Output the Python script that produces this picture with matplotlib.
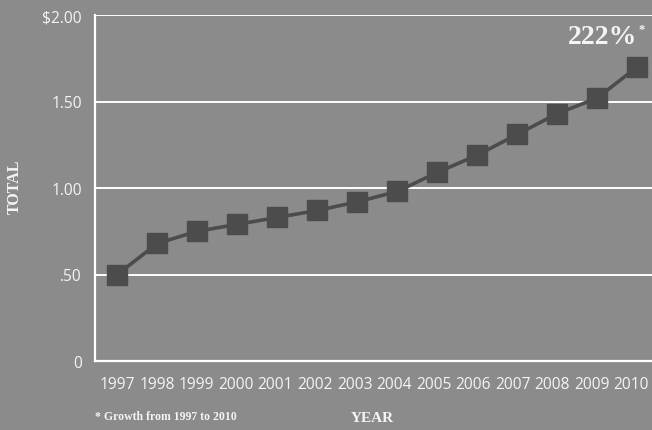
import matplotlib
matplotlib.use("Agg")
import matplotlib.pyplot as plt
from matplotlib.transforms import ScaledTranslation

years = [1997, 1998, 1999, 2000, 2001, 2002, 2003, 2004, 2005, 2006, 2007, 2008, 2009, 2010]
totals = [0.50, 0.68, 0.75, 0.79, 0.83, 0.87, 0.92, 0.98, 1.09, 1.19, 1.31, 1.43, 1.52, 1.70]
y_ticks = [0, 0.5, 1.0, 1.5, 2.0]
y_tick_labels = ["0", ".50", "1.00", "1.50", "$2.00"]
growth_label = "222%"
footnote = "* Growth from 1997 to 2010"

BG = "#8b8b8b"
MARK = "#4c4c4c"
TEXT = "#f4f4f4"
SANS = "Open Sans"
SERIF = "Liberation Serif"

fig = plt.figure(figsize=(6.52, 4.31), dpi=100, facecolor=BG)
ax = fig.add_axes([95 / 652, 1 - 362 / 431, (652 - 95) / 652, (362 - 16) / 431])
ax.set_facecolor(BG)

ax.plot(years, totals, color=MARK, lw=2.6, marker="s", ms=15,
        mfc=MARK, mec=MARK, zorder=3)

ax.set_xlim(1996.44, 2010.37)
ax.set_ylim(0, 2.0)

ax.set_yticks(y_ticks)
ax.set_yticklabels(y_tick_labels)
ax.set_xticks(years)
ax.set_xticklabels([str(y) for y in years])
ax.tick_params(axis="both", length=0, colors=TEXT, labelsize=11.2)
ax.tick_params(axis="y", pad=9.5)
ax.tick_params(axis="x", pad=11)
for lab in ax.get_xticklabels() + ax.get_yticklabels():
    lab.set_fontfamily(SANS)

# year labels are set a touch tighter than the data spacing
for i, lab in enumerate(ax.get_xticklabels()):
    shift = ScaledTranslation(-0.46 * i / 100, 0, fig.dpi_scale_trans)
    lab.set_transform(lab.get_transform() + shift)

ax.grid(axis="y", color="white", lw=1.4, zorder=1)
ax.set_axisbelow(True)
for side in ("top", "right"):
    ax.spines[side].set_visible(False)
for side in ("left", "bottom"):
    ax.spines[side].set_color("white")
    ax.spines[side].set_linewidth(1.6)

# growth callout
fig.text(568 / 652, 1 - 38 / 431, growth_label, color=TEXT, family=SERIF,
         weight="bold", fontsize=20, ha="left", va="center")
fig.text(638 / 652, 1 - 30 / 431, "*", color=TEXT, family=SERIF,
         weight="bold", fontsize=9, ha="left", va="center")

# axis titles
fig.text(15 / 652, 1 - 187 / 431, "TOTAL", color=TEXT, family=SERIF,
         weight="bold", fontsize=11.5, rotation=90, ha="center", va="center")
fig.text(372 / 652, 1 - 419 / 431, "YEAR", color=TEXT, family=SERIF,
         weight="bold", fontsize=11, ha="center", va="center")
fig.text(95 / 652, 1 - 417 / 431, footnote, color=TEXT, family=SERIF,
         weight="bold", fontsize=8.5, ha="left", va="center")

fig.savefig("out.png", dpi=100, facecolor=BG)
